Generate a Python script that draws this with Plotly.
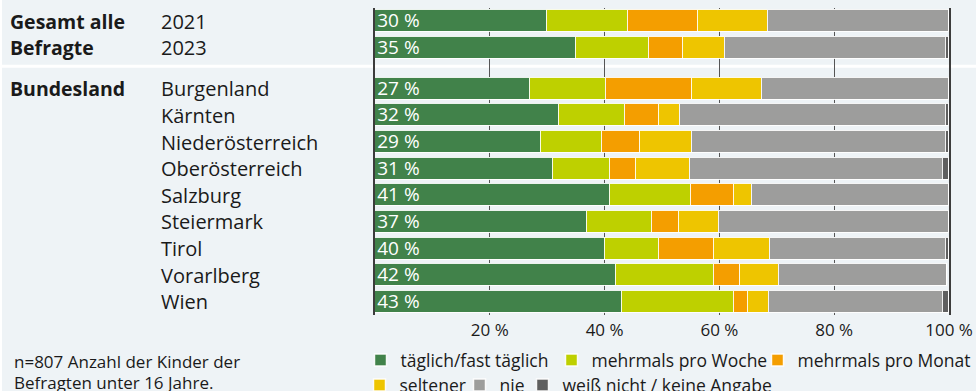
import plotly.graph_objects as go

# Survey rows: two overall survey years, then the nine federal states
gesamt_rows = ["2021", "2023"]
land_rows = ["Burgenland", "Kärnten", "Niederösterreich", "Oberösterreich",
             "Salzburg", "Steiermark", "Tirol", "Vorarlberg", "Wien"]

categories = ["täglich/fast täglich", "mehrmals pro Woche", "mehrmals pro Monat",
              "seltener", "nie", "weiß nicht / keine Angabe"]

# Shares in percent, one list per answer category (rows in order above)
taeglich = [30, 35, 27, 32, 29, 31, 41, 37, 40, 42, 43]
mehrmals_woche = [14.1, 12.8, 13.3, 11.5, 10.5, 9.9, 14.1, 11.3, 9.4, 17.1, 19.5]
mehrmals_monat = [12.1, 5.9, 15.0, 5.9, 6.7, 4.5, 7.4, 4.6, 9.7, 4.5, 2.4]
seltener = [12.2, 7.2, 12.1, 3.8, 9.1, 9.4, 3.2, 7.0, 9.8, 6.7, 3.8]
nie = [31.6, 38.6, 32.6, 46.3, 44.2, 44.2, 34.3, 40.1, 30.6, 29.4, 30.3]
weiss_nicht = [0, 0.5, 0, 0.5, 0.5, 1.0, 0, 0, 0.5, 0, 1.0]

tick_values = [20, 40, 60, 80, 100]
tick_labels = ["20 %", "40 %", "60 %", "80 %", "100 %"]

series = [taeglich, mehrmals_woche, mehrmals_monat, seltener, nie, weiss_nicht]
colors = ["#41824a", "#bed000", "#f49e00", "#eec500", "#9d9d9c", "#5f5f5f"]

# Row positions on the (reversed) y axis, with an extra gap between groups
GROUP_GAP = 0.54
y_pos = [float(i) for i in range(len(gesamt_rows))]
y_pos += [len(gesamt_rows) + GROUP_GAP + i for i in range(len(land_rows))]
row_names = gesamt_rows + land_rows

TEXT = "#1a1a1a"
BG = "#eef3f6"
FONT = "Open Sans"

# Plot-area geometry in pixels, used to place items outside the axes
W, H = 976, 391
L, R, T, B = 375, 27, 8, 76
PW = W - L - R
PH = H - T - B


def px_x(px):
    return (px - L) / PW


def px_y(py):
    return (H - B - py) / PH


# one single-entry legend per category, laid out in two rows (text start x, row centre y)
legend_slots = [(399, 360), (590, 360), (796, 360), (398, 385), (498, 385), (561, 385)]
legend_ids = ["legend"] + [f"legend{i}" for i in range(2, len(categories) + 1)]

fig = go.Figure()
for k, (name, vals, col, lg) in enumerate(zip(categories, series, colors, legend_ids)):
    fig.add_trace(go.Bar(
        x=vals, y=y_pos, orientation="h", name=name,
        marker=dict(color=col, line=dict(color="rgba(255,255,255,0.9)", width=1.5)),
        width=0.825, legend=lg,
        text=[f"{v:.0f} %" for v in vals] if k == 0 else None,
        textposition="inside" if k == 0 else "none",
        insidetextanchor="start", constraintext="none",
        textfont=dict(color="white", size=19, family=FONT),
        hoverinfo="x+name",
    ))

annotations = []
for name, yp in zip(row_names, y_pos):
    annotations.append(dict(x=px_x(159), y=yp, xref="paper", yref="y", text=name,
                            showarrow=False, xanchor="left", yanchor="middle",
                            font=dict(size=20, color=TEXT, family=FONT)))
for txt, yp in [("<b>Gesamt alle</b>", y_pos[0]), ("<b>Befragte</b>", y_pos[1]),
                ("<b>Bundesland</b>", y_pos[2])]:
    annotations.append(dict(x=px_x(8), y=yp, xref="paper", yref="y", text=txt,
                            showarrow=False, xanchor="left", yanchor="middle",
                            font=dict(size=19.5, color=TEXT, family=FONT)))
for txt, py in [("n=807 Anzahl der Kinder der", 361), ("Befragten unter 16 Jahre.", 382)]:
    annotations.append(dict(x=px_x(12), y=px_y(py), xref="paper", yref="paper", text=txt,
                            showarrow=False, xanchor="left", yanchor="middle",
                            font=dict(size=17, color=TEXT, family=FONT)))

shapes = [
    # white divider between the overall rows and the federal states
    dict(type="line", xref="paper", yref="y", x0=px_x(2), x1=px_x(W), y0=1.70, y1=1.70,
         line=dict(color="white", width=3), layer="below"),
    # thin white strip at the left edge
    dict(type="rect", xref="paper", yref="paper", x0=px_x(0), x1=px_x(2),
         y0=px_y(H), y1=px_y(0), fillcolor="white", line=dict(width=0), layer="below"),
]

legends = {}
for lg, (tx, ty) in zip(legend_ids, legend_slots):
    legends[lg] = dict(orientation="h", xanchor="left", yanchor="middle",
                       x=px_x(tx - 38.5), y=px_y(ty),
                       bgcolor="rgba(0,0,0,0)", traceorder="normal",
                       font=dict(size=17.5, color=TEXT, family=FONT))

fig.update_layout(
    width=W, height=H,
    margin=dict(l=L, r=R, t=T, b=B, autoexpand=False),
    paper_bgcolor=BG, plot_bgcolor=BG,
    barmode="stack", bargap=0,
    font=dict(family=FONT, color=TEXT),
    xaxis=dict(range=[0, 100], tickvals=tick_values, ticktext=tick_labels,
               showgrid=True, gridcolor="#555555", gridwidth=1.2,
               zeroline=False, showline=False, ticks="", ticklabelstandoff=3,
               tickfont=dict(size=17, color=TEXT, family=FONT), fixedrange=True),
    yaxis=dict(range=[y_pos[-1] + 0.49, -0.49], showticklabels=False,
               showgrid=False, zeroline=False, showline=True, mirror=True,
               linecolor="#3c3c3c", linewidth=1.5, ticks="", fixedrange=True),
    annotations=annotations,
    shapes=shapes,
    showlegend=True,
    **legends,
)

fig.write_html("out.html")
